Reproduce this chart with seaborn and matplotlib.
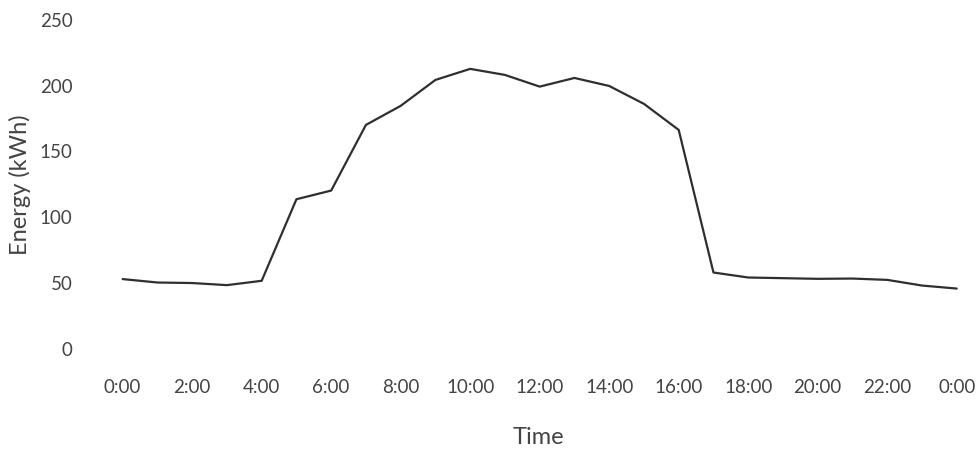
import numpy as np
import pandas as pd
import matplotlib
matplotlib.use('Agg')
import matplotlib.pyplot as plt
import seaborn as sns

# 每小时的能耗数据 (0:00 ~ 次日0:00)
hours = list(range(0, 25))
energy = [53, 50.4, 50, 48.4, 51.7, 113.7, 120.3, 170.2, 184.7, 204.4, 212.8,
          208.2, 199.3, 205.9, 199.8, 186.2, 166.4, 58, 54.2, 53.7, 53.2, 53.4,
          52.4, 48.1, 45.8]
tick_hours = list(range(0, 25, 2))
tick_labels = ['0:00', '2:00', '4:00', '6:00', '8:00', '10:00', '12:00', '14:00',
               '16:00', '18:00', '20:00', '22:00', '0:00']
y_ticks = [0, 50, 100, 150, 200, 250]

sns.set_theme(style='white')
plt.rcParams['font.family'] = ['Lato', 'DejaVu Sans']

df = pd.DataFrame({'hour': hours, 'energy': energy})

fig = plt.figure(figsize=(9.79, 4.53), dpi=100)
ax = fig.add_axes([0.104, 0.23, 0.891, 0.726])
sns.lineplot(x='hour', y='energy', data=df, ax=ax, color='#2f2f2f', linewidth=1.6)

ax.set_xlim(-0.6, 24.5)
ax.set_ylim(0, 250)
ax.set_xticks(tick_hours)
ax.set_xticklabels(tick_labels)
ax.set_yticks(y_ticks)
for s in ax.spines.values():
    s.set_visible(False)
ax.tick_params(axis='x', length=0, pad=22, labelsize=13.5, labelcolor='#444444')
ax.tick_params(axis='y', length=0, pad=21, labelsize=13.5, labelcolor='#444444')
ax.set_xlabel('Time', fontsize=17, color='#444444', labelpad=22)
ax.set_ylabel('Energy (kWh)', fontsize=17, color='#444444', labelpad=6)

plt.savefig('out.png', dpi=100)
